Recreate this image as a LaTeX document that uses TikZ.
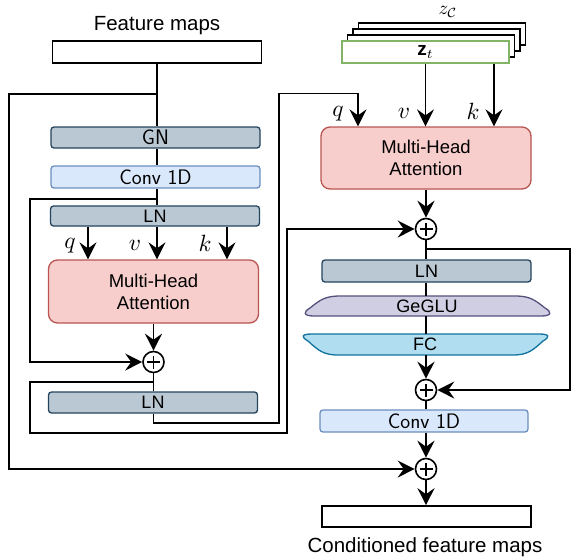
\documentclass[tikz,border=0pt]{standalone}
\usepackage{graphicx}
\usepackage{fontspec}
\setmainfont{Liberation Sans}
\usetikzlibrary{arrows.meta}
\definecolor{lnfill}{HTML}{BAC8D3}
\definecolor{lnstroke}{HTML}{23445D}
\definecolor{convfill}{HTML}{DAE8FC}
\definecolor{convstroke}{HTML}{6C8EBF}
\definecolor{mhafill}{HTML}{F8CECC}
\definecolor{mhastroke}{HTML}{B85450}
\definecolor{gegfill}{HTML}{D0CEE2}
\definecolor{gegstroke}{HTML}{56517E}
\definecolor{fcfill}{HTML}{B1DDF0}
\definecolor{fcstroke}{HTML}{10739E}
\definecolor{ztgreen}{HTML}{82B366}
\begin{document}
\begin{tikzpicture}[x=1pt,y=-1pt,
  conn/.style={line width=1.6pt, draw=black},
  arr/.style={conn, -{Stealth[length=17pt,width=17pt,inset=6pt]}},
  lnbox/.style={draw=lnstroke, fill=lnfill, rounded corners=3pt, line width=1.3pt, minimum width=209pt, minimum height=21pt, inner sep=0pt, font=\fontsize{18}{20}\selectfont},
  convbox/.style={lnbox, draw=convstroke, fill=convfill, font=\sffamily\fontsize{21}{24}\selectfont},
  mhabox/.style={draw=mhastroke, fill=mhafill, rounded corners=9pt, line width=1.3pt, minimum width=210pt, minimum height=62pt, align=center, inner sep=0pt, font=\fontsize{18.5}{22}\selectfont},
  plainbox/.style={draw, line width=1.6pt, minimum width=209pt, minimum height=22pt, inner sep=0pt},
  stackbox/.style={draw, fill=white, line width=1.6pt, minimum width=167pt, minimum height=22pt, inner sep=0pt},
  sumnode/.style={circle, draw, fill=white, line width=1.6pt, minimum size=21pt, inner sep=0pt,
    path picture={\draw[line width=1.6pt] ([xshift=-6.5pt]path picture bounding box.center) -- ([xshift=6.5pt]path picture bounding box.center) ([yshift=-6.5pt]path picture bounding box.center) -- ([yshift=6.5pt]path picture bounding box.center);}},
  lbl/.style={font=\fontsize{20.5}{24}\selectfont, inner sep=0pt},
  mlbl/.style={inner sep=0pt},
  shapetext/.style={minimum width=240pt, minimum height=20pt, inner sep=0pt, font=\fontsize{18}{20}\selectfont}
]
\useasboundingbox (0,0) rectangle (571,558);

% ---------------- left column nodes ----------------
\node[lbl, anchor=base] (fmlabel) at (157,30) {Feature maps};
\node[plainbox] (fm) at (157,52) {};
\node[lnbox, font=\sffamily\fontsize{21}{24}\selectfont] (gn) at (155.5,137.5) {GN};
\node[convbox, minimum height=22pt] (cv1) at (155.5,177) {Conv 1D};
\node[lnbox, minimum height=20pt] (ln1) at (155,216) {LN};
\node[mhabox, minimum height=63pt] (mha1) at (153.5,291.5) {Multi-Head\\Attention};
\node[sumnode] (s1) at (153.5,362) {};
\node[lnbox] (ln2) at (153,402.5) {LN};
\node[mlbl] (lq1) at (70,246) {\scalebox{2.35}{$q$}};
\node[mlbl] (lv1) at (135,245) {\scalebox{2.35}{$v$}};
\node[mlbl] (lk1) at (205,243) {\scalebox{2.35}{$k$}};

% ---------------- right column nodes ----------------
\node[stackbox] (zc3) at (442,34) {};
\node[stackbox] (zc2) at (436.5,40) {};
\node[stackbox] (zc1) at (431,46) {};
\node[stackbox, draw=ztgreen] (zt) at (425.5,52) {\scalebox{1.9}{$\mathbf{z}_t$}};
\node[mlbl] (zclabel) at (448,12) {\scalebox{1.9}{$z_{\mathcal{C}}$}};
\node[mhabox] (mha2) at (426,158) {Multi-Head\\Attention};
\node[mlbl] (lq2) at (338,113.5) {\scalebox{2.35}{$q$}};
\node[mlbl] (lv2) at (404,113) {\scalebox{2.35}{$v$}};
\node[mlbl] (lk2) at (473,111) {\scalebox{2.35}{$k$}};
\node[sumnode] (s2) at (426,229) {};
\node[lnbox, minimum height=22pt] (ln3) at (426.5,271) {LN};

% GeGLU shape
\filldraw[fill=gegfill, draw=gegstroke, line width=1.3pt]
  (314,316) .. controls (303,316) and (303,312) .. (310,308)
  .. controls (320,300) and (325,296) .. (340,296) -- (515,296)
  .. controls (530,296) and (535,300) .. (545,308)
  .. controls (552,312) and (552,316) .. (541,316) -- cycle;
\node[shapetext] (geglu) at (427,306) {GeGLU};

% FC shape
\filldraw[fill=fcfill, draw=fcstroke, line width=1.3pt]
  (312,334) .. controls (301,334) and (301,337) .. (308,341)
  .. controls (318,350) and (323,355) .. (338,355) -- (513,355)
  .. controls (528,355) and (533,350) .. (543,341)
  .. controls (550,337) and (550,334) .. (539,334) -- cycle;
\node[shapetext, minimum height=21pt] (fc) at (425,344.5) {FC};

\node[sumnode] (s4) at (426,390) {};
\node[convbox, minimum height=22pt, minimum width=208pt] (cv2) at (424,421) {Conv 1D};
\node[sumnode] (s3) at (426,469) {};
\node[plainbox, minimum height=21pt] (out) at (426.5,516.5) {};
\node[lbl, anchor=base] (outlabel) at (425,552) {Conditioned feature maps};

\coordinate (j1) at (157,94);
\coordinate (j2) at (157,199);
\coordinate (j3) at (153.5,382);
\coordinate (j4) at (426,249);
\coordinate (qin) at ([xshift=-68pt]mha2.north);

% ---------------- connectors ----------------
\draw[conn] (fm.south) -- (fm.south |- gn.north);
\draw[conn] (fm.south |- gn.south) -- (fm.south |- cv1.north);
\draw[conn] (fm.south |- cv1.south) -- (fm.south |- ln1.north);

% outer residual
\draw[arr] (j1) -- ++(-148,0) |- (s3.west);
% residual 1
\draw[arr] (j2) -- ++(-127,0) |- (s1.west);

% q v k (left)
\draw[arr] ([xshift=-67pt]ln1.south) -- ([xshift=-67pt]ln1.south |- mha1.north);
\draw[arr] ([xshift=2pt]ln1.south) -- ([xshift=2pt]ln1.south |- mha1.north);
\draw[arr] ([xshift=72pt]ln1.south) -- ([xshift=72pt]ln1.south |- mha1.north);

\draw[arr] (mha1.south) -- (s1.north);
\draw[conn] (s1.south) -- (s1.south |- ln2.north);

% q path from left block to right attention
\draw[arr] (s1 |- ln2.south) |- (279,423) |- ([yshift=33pt]qin) -- (qin);
% residual 2
\draw[arr] (j3) -- ++(-123.5,0) |- (287,433) |- (s2.west);

\draw[arr] (zt.south) -- (zt.south |- mha2.north);
\draw[arr] ([xshift=68.5pt]zt.south) -- ([xshift=68.5pt]zt.south |- mha2.north);

\draw[arr] (mha2.south) -- (s2.north);
\draw[conn] (s2.south) -- (s2.south |- ln3.north);
\draw[conn] (s2.south |- ln3.south) -- (s2.south |- geglu.north);
\draw[conn] (s2.south |- geglu.south) -- (s2.south |- fc.north);
\draw[arr] (s2.south |- fc.south) -- (s4.north);
\draw[arr] (j4) -- (570,249) |- (s4.east);
\draw[conn] (s4.south) -- (s4.south |- cv2.north);
\draw[arr] (s4.south |- cv2.south) -- (s3.north);
\draw[arr] (s3.south) -- (out.north -| s3.south);
\end{tikzpicture}
\end{document}
